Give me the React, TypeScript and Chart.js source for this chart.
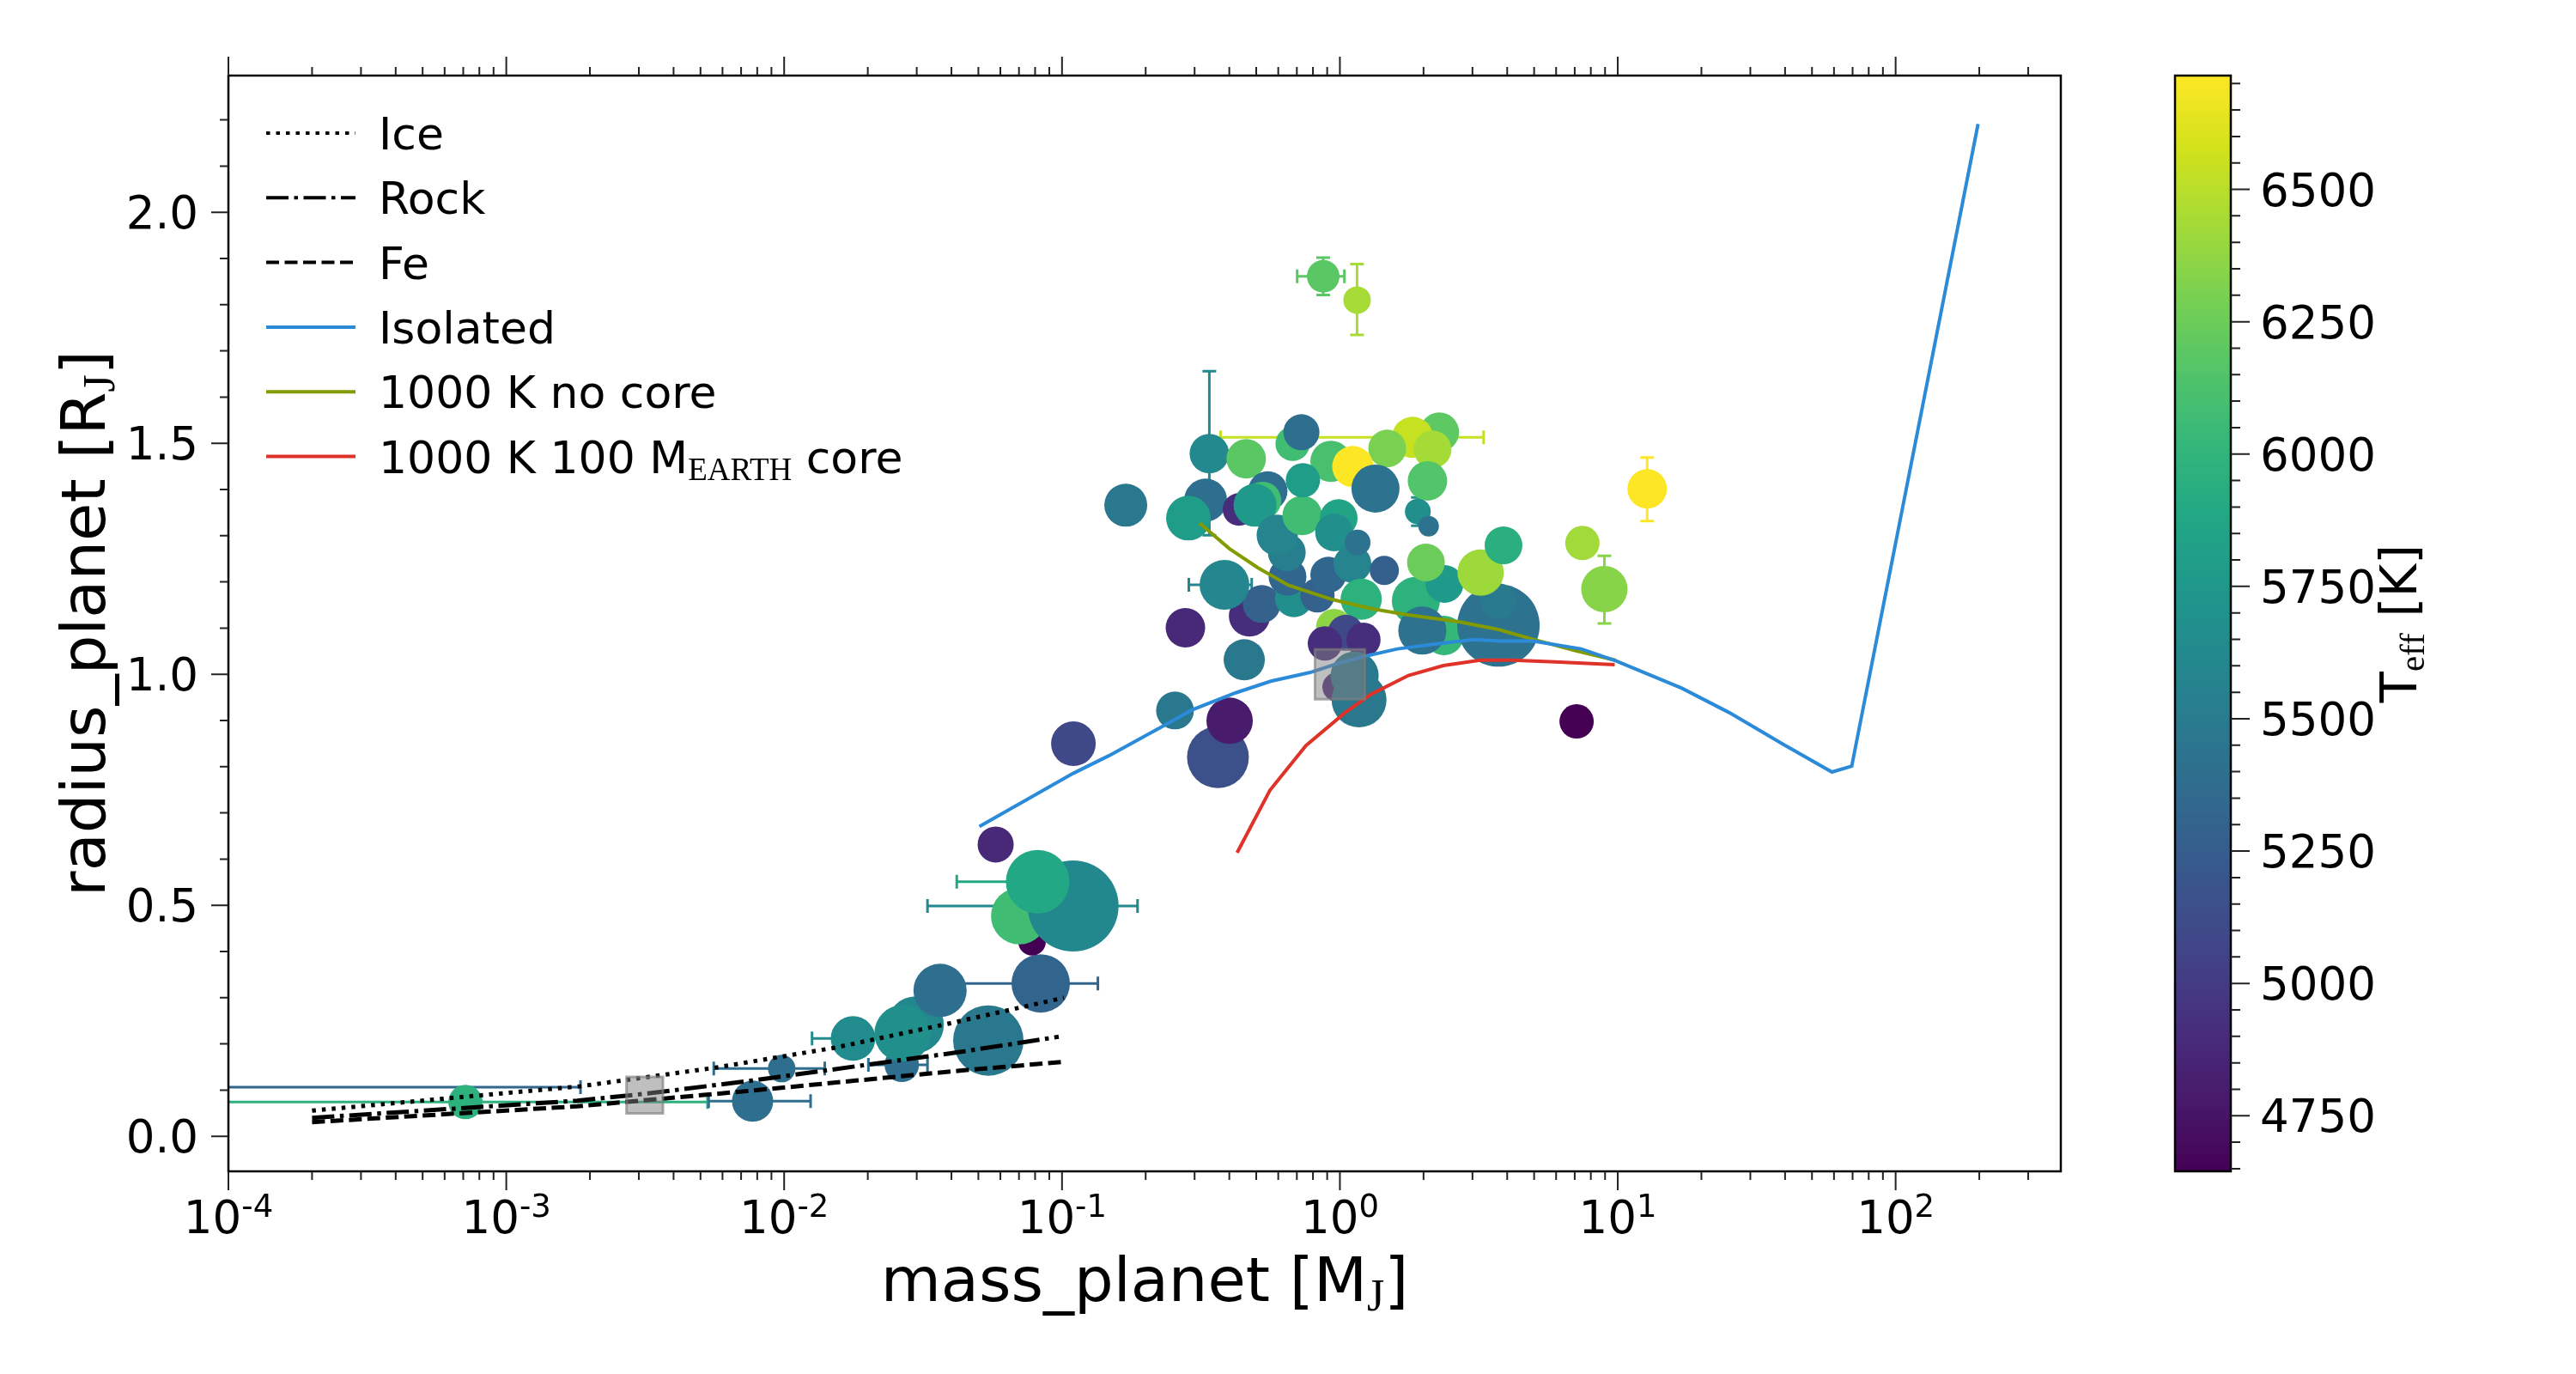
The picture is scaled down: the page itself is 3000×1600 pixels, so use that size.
import React, { useEffect, useRef } from "react";
import { Chart, registerables } from "chart.js";

Chart.register(...registerables);

// ------------------------------------------------------------------ data
// planets: mass [M_J], radius [R_J], host star Teff [K], marker size, error bounds
const planetMass = [
  5e-5, 7.13e-4, 7.7e-3, 9.8e-3, 0.0265, 0.0177, 0.0297, 0.0267, 0.0543, 0.0364,
  0.0838, 0.078, 0.0702, 0.1096, 0.0817, 0.0577, 0.1099, 0.255, 0.364, 0.401,
  0.1696, 0.278, 0.4527, 0.4727, 0.5234, 0.3843, 0.683, 0.648, 0.83, 0.909,
  0.644, 1.11, 1.193, 1.445, 1.877, 2.37, 1.98, 2.38, 2.04, 3.72,
  3.72, 3.21, 3.88, 7.46, 8.95, 7.11, 0.953, 1.05, 0.883, 1.215,
  0.976, 1.13, 1.172, 0.3287, 0.285, 0.339, 0.46, 0.4335, 0.55, 0.526,
  0.495, 0.595, 0.732, 0.676, 0.727, 0.929, 0.736, 0.99, 0.953, 1.158,
  2.28, 1.826, 1.48, 2.155, 1.113, 1.343, 2.066, 1.908, 2.086, 12.76,
  0.871, 1.153,
];
const planetRadius = [
  0.1063, 0.0742, 0.076, 0.1466, 0.1547, 0.2117, 0.2415, 0.2229, 0.2073, 0.3158,
  0.331, 0.421, 0.4768, 0.4985, 0.551, 0.6316, 0.8498, 0.9217, 0.8206, 0.8994,
  1.366, 1.1007, 1.0314, 1.1262, 1.1522, 1.1937, 1.1645, 1.211, 1.1708, 1.2154,
  1.2638, 1.2388, 1.1626, 1.2247, 1.159, 1.084, 1.0946, 1.1955, 1.242, 1.1058,
  1.158, 1.2203, 1.279, 1.2842, 1.1844, 0.8981, 1.1026, 1.09, 1.0667, 1.0747,
  0.9725, 0.9972, 0.9446, 1.3771, 1.338, 1.4775, 1.4664, 1.3567, 1.3968, 1.376,
  1.366, 1.301, 1.344, 1.499, 1.524, 1.4608, 1.42, 1.338, 1.307, 1.2853,
  1.524, 1.5128, 1.4887, 1.4868, 1.4496, 1.4019, 1.4186, 1.3522, 1.3206, 1.4013,
  1.8615, 1.81,
];
const planetTeff = [
  5330, 5970, 5390, 5390, 5390, 5640, 5612, 5680, 5473, 5390,
  5310, 4645, 6073, 5612, 5887, 4883, 5100, 5473, 5152, 4790,
  5473, 4883, 5473, 4914, 5287, 5597, 5680, 5328, 5287, 5328,
  5535, 5577, 5970, 5266, 5970, 6025, 5421, 5763, 6249, 5421,
  5494, 6415, 5949, 6425, 6342, 4645, 6363, 5100, 4914, 4914,
  4852, 5473, 5473, 5390, 5794, 5620, 6187, 4914, 5390, 6073,
  5763, 5577, 6073, 6073, 5390, 6115, 5794, 5846, 5680, 5421,
  6198, 6539, 6301, 6440, 6715, 5421, 6156, 5680, 5421, 6715,
  6187, 6446,
];
const planetSize = [
  16, 20, 24, 16, 20, 26, 33, 33, 41, 31,
  34, 16, 33, 53, 37, 21, 26, 22, 36, 27,
  25, 23, 24, 24, 22, 29, 22, 22, 20, 21,
  22, 22, 24, 17, 28, 23, 28, 22, 22, 48,
  21, 27, 22, 20, 27, 20, 21, 21, 20, 20,
  17, 28, 32, 25, 26, 23, 23, 19, 23, 22,
  25, 24, 23, 20, 21, 24, 20, 22, 22, 15,
  23, 24, 22, 22, 24, 28, 23, 15, 12, 23,
  19, 16,
];
const _ = null;
const massLow = [
  _, 0, 5.35e-3, 5.58e-3, 0.0201, 0.0126, _, _, _, _,
  0.0342, _, _, 0.0328, 0.0418, _, _, _, _, _,
  _, _, _, _, _, 0.286, _, _, _, _,
  _, _, _, _, _, _, _, _, _, _,
  _, _, _, _, _, _, _, _, _, _,
  _, _, _, _, _, _, _, _, _, _,
  _, _, _, _, _, _, _, _, _, _,
  _, 0.372, _, _, _, _, _, _, _, _,
  0.702, _,
];
const massHigh = [
  1.85e-3, 5.3e-3, 1.245e-2, 1.4e-2, 0.0328, 0.0235, _, _, _, _,
  0.1346, _, _, 0.187, 0.124, _, _, _, _, _,
  _, _, _, _, _, 0.4816, _, _, _, _,
  _, _, _, _, _, _, _, _, _, _,
  _, _, _, _, _, _, _, _, _, _,
  _, _, _, _, _, _, _, _, _, _,
  _, _, _, _, _, _, _, _, _, _,
  _, 3.29, _, _, _, _, _, _, _, _,
  1.038, _,
];
const radiusLow = [
  _, _, _, _, _, _, _, _, _, _,
  _, _, _, _, _, _, _, _, _, _,
  _, _, _, _, _, _, _, _, _, _,
  _, _, _, _, _, _, _, _, _, _,
  _, _, _, _, 1.11, _, _, _, _, _,
  _, _, _, _, _, 1.301, _, _, _, _,
  _, _, _, _, _, _, _, _, _, _,
  _, _, _, _, _, _, _, 1.3214, _, 1.3318,
  1.821, 1.7346,
];
const radiusHigh = [
  _, _, _, _, _, _, _, _, _, _,
  _, _, _, _, _, _, _, _, _, _,
  _, _, _, _, _, _, _, _, _, _,
  _, _, _, _, _, _, _, _, _, _,
  _, _, _, _, 1.2563, _, _, _, _, _,
  _, _, _, _, _, 1.656, _, _, _, _,
  _, _, _, _, _, _, _, _, _, _,
  _, _, _, _, _, _, _, 1.3827, _, 1.4693,
  1.902, 1.888,
];

// Earth and Jupiter reference squares
const refMass = [0.00315, 1.0];
const refRadius = [0.0892, 1.0];
const refSize = [30, 41];

// composition / evolution model curves
const iceMass = [2.0e-4, 1.84e-3, 5.65e-3, 0.01523, 0.0394, 0.1016];
const iceRadius = [0.0556, 0.1082, 0.1485, 0.1918, 0.2444, 0.3];
const rockMass = [2.0e-4, 1.8e-3, 3.23e-3, 7.65e-3, 0.0181, 0.0429, 0.0973];
const rockRadius = [0.04, 0.0771, 0.0927, 0.1206, 0.1515, 0.1825, 0.2154];
const feMass = [2.0e-4, 1.8e-3, 7.65e-3, 0.0181, 0.0429, 0.0996];
const feRadius = [0.0307, 0.0649, 0.0989, 0.1206, 0.1422, 0.1608];
const isolatedMass = [
  0.0504, 0.11, 0.1477, 0.228, 0.294, 0.422, 0.564, 0.782, 0.971, 1.208, 1.613,
  2.234, 3.04, 3.78, 4.95, 7.38, 9.86, 17.0, 25.2, 39.4, 59.0, 69.5, 91.0, 198,
];
const isolatedRadius = [
  0.6706, 0.786, 0.824, 0.886, 0.923, 0.96, 0.985, 1.004, 1.0225, 1.038, 1.055,
  1.066, 1.075, 1.072, 1.072, 1.055, 1.029, 0.97, 0.917, 0.8485, 0.7885, 0.801, 1.159, 2.191,
];
const noCoreMass = [0.313, 0.4, 0.506, 0.652, 0.937, 1.297, 1.734, 2.677, 3.715, 5.14, 7.12, 9.86];
const noCoreRadius = [1.327, 1.272, 1.231, 1.193, 1.162, 1.142, 1.129, 1.1137, 1.097, 1.073, 1.0506, 1.03];
const coreMass = [0.4266, 0.56, 0.628, 0.755, 1.044, 1.297, 1.765, 2.36, 3.2, 4.14, 5.94, 9.75];
const coreRadius = [0.6137, 0.749, 0.786, 0.8456, 0.917, 0.957, 0.9976, 1.019, 1.0306, 1.0306, 1.0267, 1.021];

const modelLabels = ["Ice", "Rock", "Fe", "Isolated", "1000 K no core", "1000 K 100 M_{EARTH} core"];

// axes
const X_MIN = 1e-4;
const X_MAX = 393;
const Y_MIN = -0.0758;
const Y_MAX = 2.2959;
const CB_MIN = 4645;
const CB_MAX = 6715;
const xMajorExp = [-4, -3, -2, -1, 0, 1, 2];
const yMajorTicks = [0.0, 0.5, 1.0, 1.5, 2.0];
const cbMajorTicks = [4750, 5000, 5250, 5500, 5750, 6000, 6250, 6500];

const xTitle = "mass_planet [M_{J}]";
const yTitle = "radius_planet [R_{J}]";
const cbTitle = "T_{eff} [K]";

// ------------------------------------------------------------------ style
const W = 3000;
const H = 1600;
const PLOT = { left: 266, top: 88, right: 2400, bottom: 1364 };
const CBAR = { left: 2533, right: 2598 };
const SANS = '"DejaVu Sans", sans-serif';
const SERIF = '"Liberation Serif", "DejaVu Serif", serif';

const VIRIDIS = [
  "#440154", "#481a6c", "#472f7d", "#414487", "#39568c", "#31688e", "#2a788e", "#23888e",
  "#1f988b", "#22a884", "#35b779", "#54c568", "#7ad151", "#a5db36", "#d2e21b", "#fde725",
];
const VIR_RGB = VIRIDIS.map((h) => [1, 3, 5].map((k) => parseInt(h.slice(k, k + 2), 16)));
function viridis(t: number) {
  const c = Math.max(0, Math.min(1, t));
  const n = VIR_RGB.length - 1;
  const f = c * n;
  const i = Math.min(Math.floor(f), n - 1);
  const u = f - i;
  const a = VIR_RGB[i];
  const b = VIR_RGB[i + 1];
  const rgb = a.map((v, k) => Math.round(v + (b[k] - v) * u));
  return `rgb(${rgb[0]},${rgb[1]},${rgb[2]})`;
}
const teffColor = (T: number) => viridis((T - CB_MIN) / (CB_MAX - CB_MIN));

const modelStyles = [
  { color: "#000000", dash: [4.5, 7], width: 5 },
  { color: "#000000", dash: [26, 6.5, 4.5, 6.5], width: 5 },
  { color: "#000000", dash: [15, 6.5], width: 5 },
  { color: "#2b8bd8", dash: [] as number[], width: 4 },
  { color: "#839b00", dash: [] as number[], width: 4 },
  { color: "#df3229", dash: [] as number[], width: 4 },
];
const modelData = [
  [iceMass, iceRadius],
  [rockMass, rockRadius],
  [feMass, feRadius],
  [isolatedMass, isolatedRadius],
  [noCoreMass, noCoreRadius],
  [coreMass, coreRadius],
];

// ------------------------------------------------------------------ text helpers
type Part = { t: string; sub: boolean };
function parseRich(s: string): Part[] {
  const out: Part[] = [];
  const re = /_\{([^}]*)\}/g;
  let last = 0;
  let m: RegExpExecArray | null;
  while ((m = re.exec(s))) {
    if (m.index > last) out.push({ t: s.slice(last, m.index), sub: false });
    out.push({ t: m[1], sub: true });
    last = m.index + m[0].length;
  }
  if (last < s.length) out.push({ t: s.slice(last), sub: false });
  return out;
}
function drawRich(
  ctx: CanvasRenderingContext2D, s: string, x: number, y: number,
  size: number, subSize: number, subDy: number, align: "left" | "center"
) {
  const parts = parseRich(s);
  const fonts = parts.map((p) => (p.sub ? `${subSize}px ${SERIF}` : `${size}px ${SANS}`));
  const widths = parts.map((p, i) => { ctx.font = fonts[i]; return ctx.measureText(p.t).width; });
  const total = widths.reduce((a, b) => a + b, 0);
  let cx = align === "center" ? x - total / 2 : x;
  ctx.textAlign = "left";
  ctx.textBaseline = "alphabetic";
  parts.forEach((p, i) => {
    ctx.font = fonts[i];
    ctx.fillText(p.t, cx, y + (p.sub ? subDy : 0));
    cx += widths[i];
  });
}

// ------------------------------------------------------------------ plugin
const decorPlugin = {
  id: "decor",
  beforeDatasetsDraw(chart: any) {
    const { ctx, chartArea: a } = chart;
    const x = chart.scales.x;
    const y = chart.scales.y;
    ctx.save();
    ctx.beginPath();
    ctx.rect(a.left, a.top, a.right - a.left, a.bottom - a.top);
    ctx.clip();
    ctx.lineWidth = 3;
    const cap = 8;
    for (let i = 0; i < planetMass.length; i++) {
      const col = teffColor(planetTeff[i]);
      ctx.strokeStyle = col;
      const px = x.getPixelForValue(planetMass[i]);
      const py = y.getPixelForValue(planetRadius[i]);
      const lo = massLow[i];
      const hi = massHigh[i];
      if (lo !== null || hi !== null) {
        const xl = lo === null ? px : lo > 0 ? x.getPixelForValue(lo) : a.left - 20;
        const xh = hi === null ? px : x.getPixelForValue(hi);
        ctx.beginPath();
        ctx.moveTo(xl, py); ctx.lineTo(xh, py);
        if (lo !== null && lo > 0) { ctx.moveTo(xl, py - cap); ctx.lineTo(xl, py + cap); }
        if (hi !== null) { ctx.moveTo(xh, py - cap); ctx.lineTo(xh, py + cap); }
        ctx.stroke();
      }
      const rl = radiusLow[i];
      const rh = radiusHigh[i];
      if (rl !== null || rh !== null) {
        const yl = rl === null ? py : y.getPixelForValue(rl);
        const yh = rh === null ? py : y.getPixelForValue(rh);
        ctx.beginPath();
        ctx.moveTo(px, yl); ctx.lineTo(px, yh);
        if (rl !== null) { ctx.moveTo(px - cap, yl); ctx.lineTo(px + cap, yl); }
        if (rh !== null) { ctx.moveTo(px - cap, yh); ctx.lineTo(px + cap, yh); }
        ctx.stroke();
      }
    }
    ctx.restore();
  },
  afterDraw(chart: any) {
    const { ctx, chartArea: a } = chart;
    const x = chart.scales.x;
    const y = chart.scales.y;
    const cb = chart.scales.cb;
    ctx.save();

    // frame
    ctx.strokeStyle = "#000";
    ctx.lineWidth = 2.5;
    ctx.strokeRect(a.left, a.top, a.right - a.left, a.bottom - a.top);

    // x ticks (bottom and top)
    ctx.strokeStyle = "#222";
    ctx.lineWidth = 2;
    ctx.beginPath();
    for (const e of xMajorExp) {
      for (let k = 1; k <= 9; k++) {
        const v = k * Math.pow(10, e);
        if (v < X_MIN * 0.999 || v > X_MAX) continue;
        const px = x.getPixelForValue(v);
        const len = k === 1 ? 22 : 10;
        ctx.moveTo(px, a.bottom); ctx.lineTo(px, a.bottom + len);
        ctx.moveTo(px, a.top); ctx.lineTo(px, a.top - len);
      }
    }
    // y ticks (left)
    for (let i = 0; i <= 22; i++) {
      const v = i / 10;
      const py = y.getPixelForValue(v);
      const len = i % 5 === 0 ? 20 : 10;
      ctx.moveTo(a.left, py); ctx.lineTo(a.left - len, py);
    }
    ctx.stroke();

    // tick labels
    ctx.fillStyle = "#000";
    for (const e of xMajorExp) {
      const px = x.getPixelForValue(Math.pow(10, e));
      ctx.font = `53px ${SANS}`;
      const w1 = ctx.measureText("10").width;
      ctx.font = `37px ${SANS}`;
      const exp = String(e);
      const w2 = ctx.measureText(exp).width;
      const sx = px - (w1 + w2) / 2;
      ctx.textAlign = "left";
      ctx.textBaseline = "alphabetic";
      ctx.font = `53px ${SANS}`;
      ctx.fillText("10", sx, 1436);
      ctx.font = `37px ${SANS}`;
      ctx.fillText(exp, sx + w1, 1417);
    }
    ctx.font = `53px ${SANS}`;
    ctx.textAlign = "right";
    ctx.textBaseline = "alphabetic";
    for (const v of yMajorTicks) {
      const py = y.getPixelForValue(v);
      ctx.fillText(v.toFixed(1), a.left - 35, py + 19);
    }

    // axis titles
    drawRich(ctx, xTitle, (a.left + a.right) / 2, 1515, 72, 52, 11, "center");
    ctx.save();
    ctx.translate(122, (a.top + a.bottom) / 2);
    ctx.rotate(-Math.PI / 2);
    drawRich(ctx, yTitle, 0, 0, 72, 52, 11, "center");
    ctx.restore();

    // legend
    const rowY0 = 155;
    const rowStep = 75.3;
    modelLabels.forEach((lab, i) => {
      const ry = rowY0 + i * rowStep;
      const st = modelStyles[i];
      ctx.save();
      ctx.strokeStyle = st.color;
      ctx.lineWidth = 4;
      ctx.lineCap = "butt";
      ctx.setLineDash(st.dash);
      ctx.beginPath();
      ctx.moveTo(310, ry); ctx.lineTo(414, ry);
      ctx.stroke();
      ctx.restore();
      ctx.fillStyle = "#000";
      drawRich(ctx, lab, 441, ry + 19, 52, 37, 8, "left");
    });

    // colorbar
    for (let py = Math.floor(cb.top); py < cb.bottom; py++) {
      const v = cb.getValueForPixel(py + 0.5);
      ctx.fillStyle = teffColor(v);
      ctx.fillRect(CBAR.left, py, CBAR.right - CBAR.left, 1.5);
    }
    ctx.strokeStyle = "#000";
    ctx.lineWidth = 2.5;
    ctx.strokeRect(CBAR.left, cb.top, CBAR.right - CBAR.left, cb.bottom - cb.top);
    ctx.strokeStyle = "#222";
    ctx.lineWidth = 2;
    ctx.beginPath();
    for (let v = 4650; v <= CB_MAX; v += 50) {
      const py = cb.getPixelForValue(v);
      const len = v % 250 === 0 ? 22 : 11;
      ctx.moveTo(CBAR.right, py); ctx.lineTo(CBAR.right + len, py);
    }
    ctx.stroke();
    ctx.fillStyle = "#000";
    ctx.font = `53px ${SANS}`;
    ctx.textAlign = "left";
    ctx.textBaseline = "alphabetic";
    for (const v of cbMajorTicks) {
      ctx.fillText(String(v), 2632, cb.getPixelForValue(v) + 19);
    }
    ctx.save();
    ctx.translate(2814, (cb.top + cb.bottom) / 2);
    ctx.rotate(-Math.PI / 2);
    drawRich(ctx, cbTitle, 0, 0, 59, 41, 9, "center");
    ctx.restore();

    ctx.restore();
  },
};

// ------------------------------------------------------------------ component
export default function App() {
  const ref = useRef<HTMLCanvasElement>(null);
  useEffect(() => {
    const canvas = ref.current;
    if (!canvas) return;
    const lineSets = modelData.map(([ms, rs], i) => ({
      type: "line" as const,
      label: modelLabels[i],
      data: ms.map((m, j) => ({ x: m, y: rs[j] })),
      borderColor: modelStyles[i].color,
      borderWidth: modelStyles[i].width,
      borderDash: modelStyles[i].dash,
      borderCapStyle: "butt" as const,
      pointRadius: 0,
      fill: false,
      tension: 0,
      order: 1,
    }));
    const chart = new Chart(canvas, {
      type: "scatter",
      data: {
        datasets: [
          {
            type: "scatter",
            label: "Earth / Jupiter",
            data: refMass.map((m, i) => ({ x: m, y: refRadius[i] })),
            pointStyle: "rect",
            pointRadius: refSize,
            pointBackgroundColor: "rgba(128,128,128,0.5)",
            pointBorderColor: "rgba(128,128,128,0.65)",
            pointBorderWidth: 3,
            order: 0,
          } as any,
          ...lineSets,
          {
            type: "scatter",
            label: "planets",
            data: planetMass.map((m, i) => ({ x: m, y: planetRadius[i] })),
            pointRadius: planetSize,
            pointBackgroundColor: planetTeff.map(teffColor),
            pointBorderWidth: 0,
            pointBorderColor: "rgba(0,0,0,0)",
            order: 2,
          } as any,
        ],
      },
      options: {
        responsive: false,
        maintainAspectRatio: false,
        animation: false,
        devicePixelRatio: 1,
        events: [],
        layout: {
          padding: { left: PLOT.left, top: PLOT.top, right: W - PLOT.right, bottom: H - PLOT.bottom },
        },
        plugins: { legend: { display: false }, tooltip: { enabled: false } },
        scales: {
          x: { type: "logarithmic", min: X_MIN, max: X_MAX, display: false, bounds: "data" },
          y: { type: "linear", min: Y_MIN, max: Y_MAX, display: false, bounds: "data" },
          cb: { type: "linear", axis: "y", position: "right", min: CB_MIN, max: CB_MAX, display: false, bounds: "data" },
        },
      } as any,
      plugins: [decorPlugin as any],
    });
    return () => chart.destroy();
  }, []);
  return (
    <div style={{ position: "fixed", left: 0, top: 0, width: W, height: H, background: "#fff" }}>
      <canvas ref={ref} width={W} height={H} style={{ width: W, height: H, display: "block" }} />
    </div>
  );
}
